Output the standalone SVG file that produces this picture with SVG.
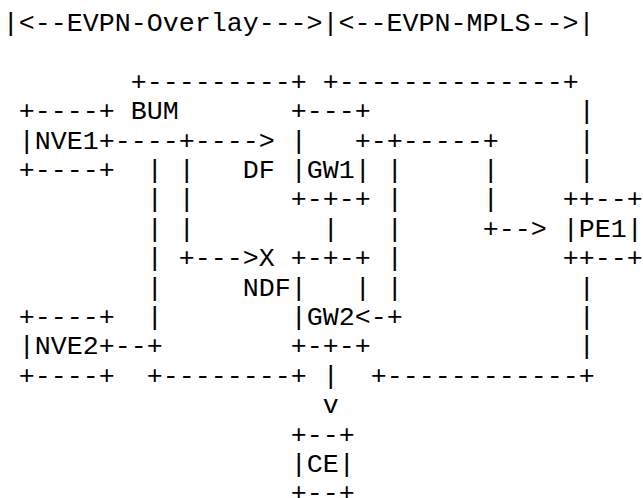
<svg xmlns="http://www.w3.org/2000/svg" width="643" height="498" viewBox="0 0 643 498">
<style>
text{font-family:"Courier New","Liberation Mono",monospace;font-size:26.67px;fill:#000;white-space:pre}
</style>
<rect width="643" height="498" fill="#fff"/>
<g id="labels">
<text x="2.7" y="31">|&lt;--EVPN-Overlay---&gt;|&lt;--EVPN-MPLS--&gt;|</text>
<text x="130.7" y="119.2">BUM</text>
<text x="242.7" y="178">DF</text>
<text x="258.7" y="266.2">X</text>
<text x="242.7" y="295.6">NDF</text>
</g>
<g id="connectors">
<text x="130.7" y="89.8">+---------+</text>
<text x="322.7" y="89.8">+--------------+</text>
<text x="578.7" y="119.2">|</text>
<text x="114.7" y="148.6">----+----&gt;</text>
<text x="370.7" y="148.6">-+-----+</text>
<text x="578.7" y="148.6">|</text>
<text x="146.7" y="178">|</text>
<text x="178.7" y="178">|</text>
<text x="386.7" y="178">|</text>
<text x="482.7" y="178">|</text>
<text x="578.7" y="178">|</text>
<text x="146.7" y="207.4">|</text>
<text x="178.7" y="207.4">|</text>
<text x="386.7" y="207.4">|</text>
<text x="482.7" y="207.4">|</text>
<text x="146.7" y="236.8">|</text>
<text x="178.7" y="236.8">|</text>
<text x="322.7" y="236.8">|</text>
<text x="386.7" y="236.8">|</text>
<text x="482.7" y="236.8">+--&gt;</text>
<text x="146.7" y="266.2">|</text>
<text x="178.7" y="266.2">+---&gt;</text>
<text x="386.7" y="266.2">|</text>
<text x="146.7" y="295.6">|</text>
<text x="386.7" y="295.6">|</text>
<text x="578.7" y="295.6">|</text>
<text x="146.7" y="325">|</text>
<text x="354.7" y="325">&lt;-+</text>
<text x="578.7" y="325">|</text>
<text x="114.7" y="354.4">--+</text>
<text x="578.7" y="354.4">|</text>
<text x="146.7" y="383.8">+--------+</text>
<text x="322.7" y="383.8">|</text>
<text x="370.7" y="383.8">+------------+</text>
<text x="322.7" y="413.2">v</text>
</g>
<g id="NVE1">
<text x="18.7" y="119.2">+----+</text>
<text x="18.7" y="148.6">|NVE1+</text>
<text x="18.7" y="178">+----+</text>
</g>
<g id="NVE2">
<text x="18.7" y="325">+----+</text>
<text x="18.7" y="354.4">|NVE2+</text>
<text x="18.7" y="383.8">+----+</text>
</g>
<g id="GW1">
<text x="290.7" y="119.2">+---+</text>
<text x="290.7" y="148.6">|</text>
<text x="354.7" y="148.6">+</text>
<text x="290.7" y="178">|GW1|</text>
<text x="290.7" y="207.4">+-+-+</text>
</g>
<g id="GW2">
<text x="290.7" y="266.2">+-+-+</text>
<text x="290.7" y="295.6">|</text>
<text x="354.7" y="295.6">|</text>
<text x="290.7" y="325">|GW2</text>
<text x="290.7" y="354.4">+-+-+</text>
</g>
<g id="PE1">
<text x="562.7" y="207.4">++--+</text>
<text x="562.7" y="236.8">|PE1|</text>
<text x="562.7" y="266.2">++--+</text>
</g>
<g id="CE">
<text x="290.7" y="442.6">+--+</text>
<text x="290.7" y="472">|CE|</text>
<text x="290.7" y="501.4">+--+</text>
</g>
</svg>
